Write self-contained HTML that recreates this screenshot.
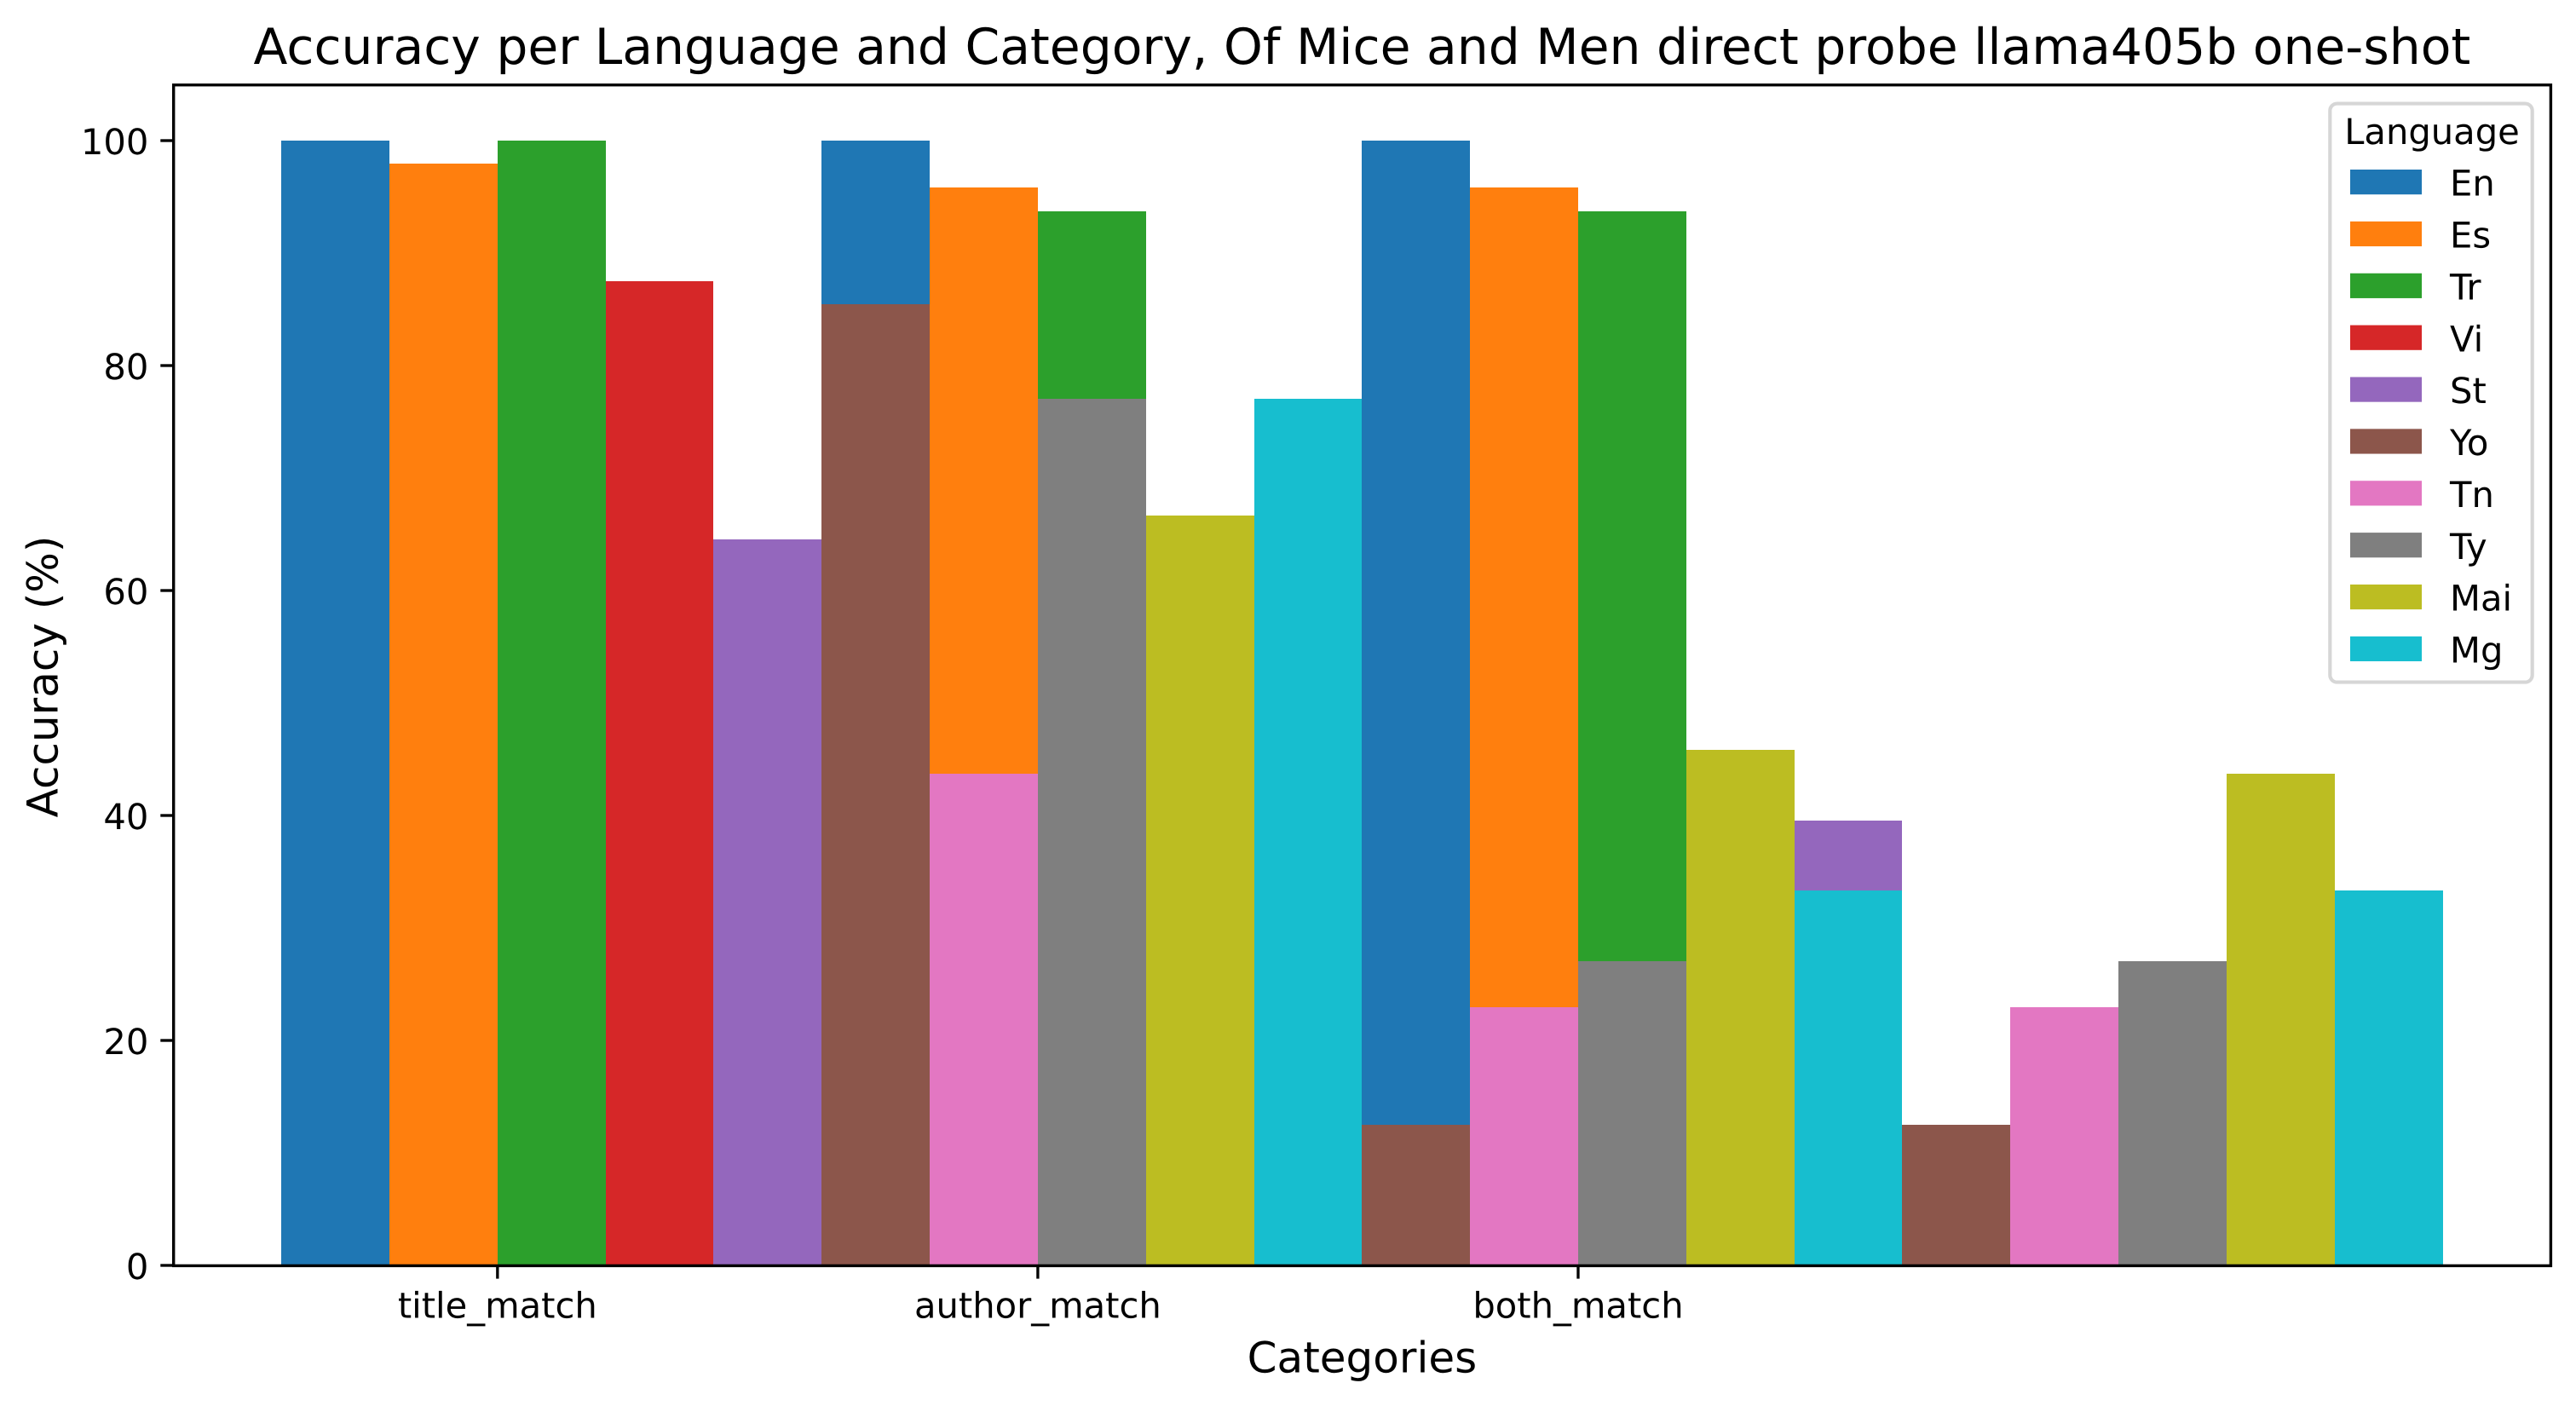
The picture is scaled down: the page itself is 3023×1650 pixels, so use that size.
<!DOCTYPE html>
<html lang="en">
<head>
<meta charset="utf-8">
<title>Accuracy per Language and Category</title>
<style>
  html, body { margin: 0; padding: 0; background: #fff; width: 3023px; height: 1650px; overflow: hidden; }
  svg { display: block; }
  text { font-family: "DejaVu Sans", "Liberation Sans", sans-serif; fill: #000; text-rendering: geometricPrecision; }
</style>
</head>
<body>
<svg id="chart" xmlns="http://www.w3.org/2000/svg" width="3023" height="1650" viewBox="0 0 3023 1650">
  <rect x="0" y="0" width="3023" height="1650" fill="#fff"/>
  <g id="bars"></g>
  <g id="ticks"></g>
  <g id="spines">
    <rect x="202" y="98" width="3.4" height="1389" fill="#000"/>
    <rect x="2991.7" y="98" width="3.4" height="1389" fill="#000"/>
    <rect x="202" y="98" width="2793" height="3.4" fill="#000"/>
    <rect x="202" y="1483.7" width="2793" height="3.4" fill="#000"/>
  </g>
  <text x="1598.4" y="75" font-size="58.33" text-anchor="middle">Accuracy per Language and Category, Of Mice and Men direct probe llama405b one-shot</text>
  <text x="1598.4" y="1610.5" font-size="50" text-anchor="middle">Categories</text>
  <text transform="translate(67.6 794) rotate(-90)" x="0" y="0" font-size="50" text-anchor="middle">Accuracy (%)</text>
  <g id="legend">
    <rect x="2734.3" y="121.6" width="237.4" height="679" rx="8.3" ry="8.3" fill="#fff" fill-opacity="0.8" stroke="#d6d6d6" stroke-width="4.17"/>
    <text x="2854" y="169" font-size="41.67" text-anchor="middle">Language</text>
  </g>
</svg>
<script>
// Chart data (accuracy %, one value per category)
const categories = ["title_match", "author_match", "both_match"];
const languages = ["En", "Es", "Tr", "Vi", "St", "Yo", "Tn", "Ty", "Mai", "Mg"];
const colors = ["#1f77b4", "#ff7f0e", "#2ca02c", "#d62728", "#9467bd", "#8c564b", "#e377c2", "#7f7f7f", "#bcbd22", "#17becf"];
const valuesEn = [100, 100, 100];
const valuesEs = [97.92, 95.83, 95.83];
const valuesTr = [100, 93.75, 93.75];
const valuesVi = [87.5, 45.83, 37.5];
const valuesSt = [64.58, 47.92, 39.58];
const valuesYo = [85.42, 12.5, 12.5];
const valuesTn = [43.75, 22.92, 22.92];
const valuesTy = [77.08, 27.08, 27.08];
const valuesMai = [66.67, 45.83, 43.75];
const valuesMg = [77.08, 33.33, 33.33];
const yTickValues = [0, 20, 40, 60, 80, 100];

const seriesValues = [valuesEn, valuesEs, valuesTr, valuesVi, valuesSt, valuesYo, valuesTn, valuesTy, valuesMai, valuesMg];

// Axis functions
const SVG_NS = "http://www.w3.org/2000/svg";
const barWidth = 0.2;
const centerOffset = 2;
function xScale(d) { return 583.83 + 634.08 * d; }
function yScale(v) { return 1485 - 13.2 * v; }

const barsGroup = document.getElementById("bars");
const ticksGroup = document.getElementById("ticks");
const legendGroup = document.getElementById("legend");

seriesValues.forEach(function (values, s) {
  values.forEach(function (value, c) {
    const left = Math.round(xScale(c + (s - centerOffset) * barWidth));
    const right = Math.round(xScale(c + (s - centerOffset + 1) * barWidth));
    const top = Math.round(yScale(value));
    const bar = document.createElementNS(SVG_NS, "rect");
    
    
    bar.setAttribute("x", left);
    bar.setAttribute("y", top);
    bar.setAttribute("width", right - left);
    bar.setAttribute("height", Math.round(yScale(0)) - top);
    bar.setAttribute("fill", colors[s]);
    bar.setAttribute("shape-rendering", "crispEdges");
    barsGroup.appendChild(bar);
  });
});

categories.forEach(function (name, c) {
  const px = xScale(c);
  const tick = document.createElementNS(SVG_NS, "rect");
  
  
  tick.setAttribute("x", px - 1.67);
  tick.setAttribute("y", 1485);
  tick.setAttribute("width", 3.33);
  tick.setAttribute("height", 15.6);
  tick.setAttribute("fill", "#000");
  ticksGroup.appendChild(tick);

  const label = document.createElementNS(SVG_NS, "text");
  
  
  label.setAttribute("x", px);
  label.setAttribute("y", 1546.5);
  label.setAttribute("font-size", "41.67");
  label.setAttribute("text-anchor", "middle");
  label.textContent = name;
  ticksGroup.appendChild(label);
});

yTickValues.forEach(function (value) {
  const py = yScale(value);
  const tick = document.createElementNS(SVG_NS, "rect");
  
  
  tick.setAttribute("x", 188.3);
  tick.setAttribute("y", py - 1.67);
  tick.setAttribute("width", 15);
  tick.setAttribute("height", 3.33);
  tick.setAttribute("fill", "#000");
  ticksGroup.appendChild(tick);

  const label = document.createElementNS(SVG_NS, "text");
  
  
  label.setAttribute("x", 174.4);
  label.setAttribute("y", py + 16.2);
  label.setAttribute("font-size", "41.67");
  label.setAttribute("text-anchor", "end");
  label.textContent = String(value);
  ticksGroup.appendChild(label);
});

languages.forEach(function (language, s) {
  const top = 199 + 60.87 * s;
  const swatch = document.createElementNS(SVG_NS, "rect");
  
  
  swatch.setAttribute("x", 2758);
  swatch.setAttribute("y", top);
  swatch.setAttribute("width", 84);
  swatch.setAttribute("height", 29.2);
  swatch.setAttribute("fill", colors[s]);
  legendGroup.appendChild(swatch);

  const entry = document.createElementNS(SVG_NS, "text");
  
  
  entry.setAttribute("x", 2875);
  entry.setAttribute("y", top + 30.7);
  entry.setAttribute("font-size", "41.67");
  entry.textContent = language;
  legendGroup.appendChild(entry);
});
</script>
</body>
</html>
